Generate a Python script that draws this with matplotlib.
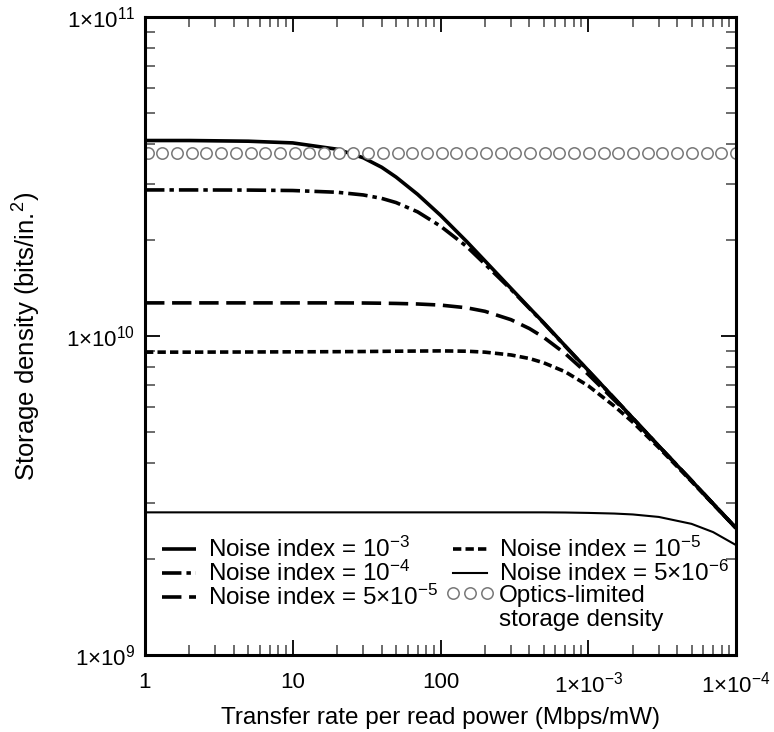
import numpy as np
import matplotlib
matplotlib.use("Agg")
import matplotlib.pyplot as plt

plt.rcParams['font.family'] = ['Liberation Sans', 'DejaVu Sans']
plt.rcParams['mathtext.fontset'] = 'custom'
plt.rcParams['mathtext.rm'] = 'Liberation Sans'
plt.rcParams['mathtext.it'] = 'Liberation Sans:italic'
plt.rcParams['mathtext.bf'] = 'Liberation Sans:bold'
plt.rcParams['lines.scale_dashes'] = False

# ---- data ----
x_vals = [1, 2, 5, 10, 20, 30, 40, 50, 70, 100, 150, 200, 300, 400, 500, 700,
          1000, 1500, 2000, 3000, 5000, 7000, 10000]

noise_1e3 = [4.10e10, 4.10e10, 4.08e10, 4.03e10, 3.85e10, 3.62e10, 3.38e10, 3.15e10, 2.78e10,
             2.39e10, 1.98e10, 1.72e10, 1.41e10, 1.225e10, 1.10e10, 9.30e9,
             7.80e9, 6.38e9, 5.53e9, 4.52e9, 3.52e9, 2.98e9, 2.50e9]
noise_1e4 = [2.87e10, 2.87e10, 2.867e10, 2.858e10, 2.822e10, 2.768e10, 2.70e10, 2.62e10, 2.45e10,
             2.21e10, 1.91e10, 1.68e10, 1.40e10, 1.22e10, 1.097e10, 9.28e9,
             7.78e9, 6.38e9, 5.53e9, 4.52e9, 3.52e9, 2.98e9, 2.50e9]
noise_5e5 = [1.27e10, 1.27e10, 1.27e10, 1.27e10, 1.27e10, 1.269e10, 1.267e10, 1.265e10, 1.26e10,
             1.25e10, 1.226e10, 1.195e10, 1.125e10, 1.055e10, 9.90e9, 8.80e9,
             7.58e9, 6.30e9, 5.52e9, 4.52e9, 3.52e9, 2.98e9, 2.50e9]
noise_1e5 = [8.90e9, 8.90e9, 8.91e9, 8.92e9, 8.93e9, 8.94e9, 8.95e9, 8.96e9, 8.97e9,
             8.98e9, 8.96e9, 8.90e9, 8.72e9, 8.50e9, 8.24e9, 7.72e9,
             6.98e9, 6.03e9, 5.37e9, 4.47e9, 3.50e9, 2.97e9, 2.50e9]
noise_5e6 = [2.80e9, 2.80e9, 2.80e9, 2.80e9, 2.80e9, 2.80e9, 2.80e9, 2.80e9, 2.80e9,
             2.80e9, 2.80e9, 2.80e9, 2.80e9, 2.80e9, 2.80e9, 2.797e9,
             2.789e9, 2.776e9, 2.758e9, 2.709e9, 2.577e9, 2.428e9, 2.211e9]
optics_density = 3.75e10
optics_x = np.geomspace(1.04, 1e4, 41)

x_ticks = [1, 10, 100, 1000, 10000]
x_tick_labels = ['1', '10', '100', '1×10$^{-3}$', '1×10$^{-4}$']
y_ticks = [1e9, 1e10, 1e11]
y_tick_labels = ['1×10$^{9}$', '1×10$^{10}$', '1×10$^{11}$']

labels = ['Noise index = 10$^{-3}$', 'Noise index = 10$^{-4}$',
          'Noise index = 5×10$^{-5}$', 'Noise index = 10$^{-5}$',
          'Noise index = 5×10$^{-6}$', 'Optics-limited']
label_extra = 'storage density'

# ---- figure ----
W, H = 774, 732
fig = plt.figure(figsize=(W/100, H/100), dpi=100)
ax = fig.add_axes([145/W, 1-655/H, (736-145)/W, (655-17)/H])
ax.set_xscale('log')
ax.set_yscale('log')

h1, = ax.plot(x_vals, noise_1e3, color='black', lw=2.6, solid_capstyle='butt')
h2, = ax.plot(x_vals, noise_1e4, color='black', lw=2.6, dashes=(14, 3.6, 3.2, 3.6))
h3, = ax.plot(x_vals, noise_5e5, color='black', lw=2.6, dashes=(14, 5.5))
h4, = ax.plot(x_vals, noise_1e5, color='black', lw=2.6, dashes=(6, 3))
h5, = ax.plot(x_vals, noise_5e6, color='black', lw=1.5)
h6, = ax.plot(optics_x, [optics_density]*len(optics_x), ls='none', marker='o',
              ms=8.2, mfc='white', mec='#777777', mew=1.1)

ax.set_xlim(1, 1e4)
ax.set_ylim(1e9, 1e11)
ax.set_xticks(x_ticks)
ax.set_xticklabels(x_tick_labels)
ax.set_yticks(y_ticks)
ax.set_yticklabels(y_tick_labels)

for s in ax.spines.values():
    s.set_linewidth(2.2)
    s.set_zorder(5)
ax.tick_params(which='both', direction='in', top=True, right=True, labelsize=16)
ax.tick_params(which='major', length=11, width=1.3, color='black')
ax.tick_params(which='minor', length=7, width=1.1, color='#444444')
ax.tick_params(axis='x', which='major', pad=12)
ax.tick_params(axis='y', which='major', pad=7)

ax.set_xlabel('Transfer rate per read power (Mbps/mW)', fontsize=17.5, labelpad=7)
ax.set_ylabel('Storage density (bits/in.$^{2}$)', fontsize=18.5, labelpad=17)

leg = ax.legend([h1, h2, h3, h4, h5, h6], labels, ncol=2, loc='lower left',
                bbox_to_anchor=(0.0, 0.055), frameon=False, fontsize=17.5,
                handlelength=2.0, handletextpad=0.2, columnspacing=0.3,
                labelspacing=-0.05, numpoints=3, borderaxespad=0.2,
                borderpad=0.2)

fig.canvas.draw()
t6 = leg.get_texts()[5]
bb = t6.get_window_extent()
fig.text(bb.x0 / W, (bb.y0 - 24) / H, label_extra, fontsize=17.5,
         ha='left', va='bottom')

fig.savefig('out.png', dpi=100)
